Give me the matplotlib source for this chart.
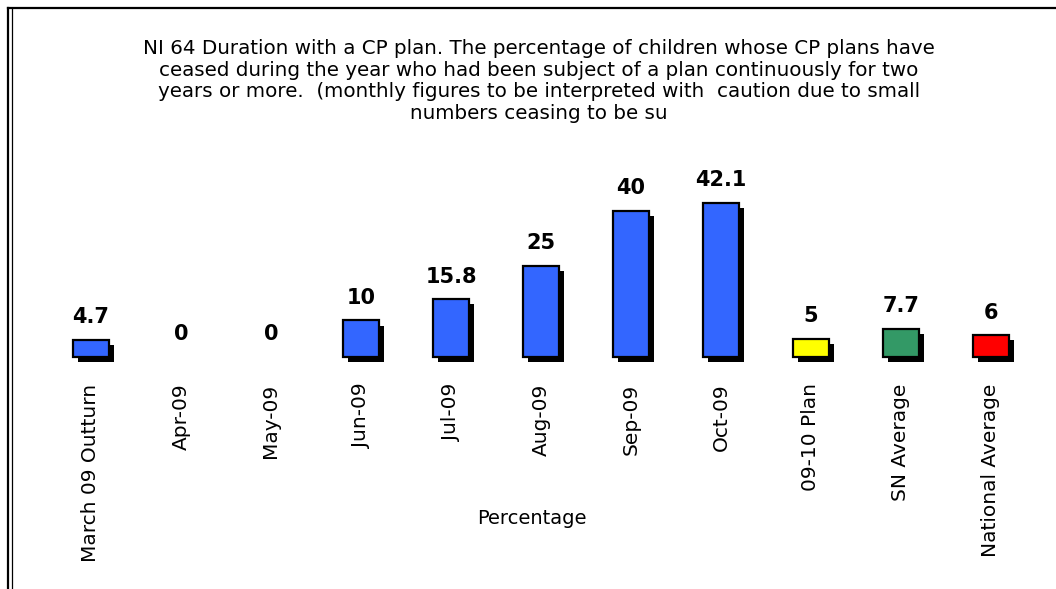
import matplotlib
matplotlib.use('Agg')
import matplotlib.pyplot as plt
import matplotlib.patheffects as pe
from matplotlib.lines import Line2D

categories = ['March 09 Outturn', 'Apr-09', 'May-09', 'Jun-09', 'Jul-09', 'Aug-09',
              'Sep-09', 'Oct-09', '09-10 Plan', 'SN Average', 'National Average']
values = [4.7, 0, 0, 10, 15.8, 25, 40, 42.1, 5, 7.7, 6]
value_labels = ['4.7', '0', '0', '10', '15.8', '25', '40', '42.1', '5', '7.7', '6']
colors = ['#3366FF'] * 8 + ['#FFFF00', '#339966', '#FF0000']

title = ("NI 64 Duration with a CP plan. The percentage of children whose CP plans have\n"
         "ceased during the year who had been subject of a plan continuously for two\n"
         "years or more.  (monthly figures to be interpreted with  caution due to small\n"
         "numbers ceasing to be su")

plt.rcParams['font.family'] = ['DejaVu Sans']

fig = plt.figure(figsize=(10.56, 5.89), dpi=100)
W, H = 1056, 589
ax = fig.add_axes([46 / W, (H - 357) / H, 990 / W, 183 / H])

x = list(range(len(categories)))
bars = ax.bar(x, values, width=0.4, color=colors, edgecolor='black', linewidth=1.6,
              clip_on=False)
for b, v in zip(bars, values):
    if v == 0:
        b.set_visible(False)
    else:
        b.set_path_effects([pe.SimplePatchShadow(offset=(3.8, -3.8), shadow_rgbFace='black',
                                                 alpha=1.0), pe.Normal()])

for xi, v, lab in zip(x, values, value_labels):
    ax.annotate(lab, (xi, v), xytext=(0, 9), textcoords='offset points',
                ha='center', va='bottom', fontsize=15, fontweight='bold')

ax.set_xlim(-0.5, len(categories) - 0.5)
ax.set_ylim(0, 50)
ax.set_xticks(x)
ax.set_xticklabels(categories, rotation=90, fontsize=14.5, va='top', ha='center')
ax.tick_params(axis='x', length=0, pad=19)
ax.set_yticks([])
for s in ax.spines.values():
    s.set_visible(False)

fig.text(539 / W, 1 - 39 / H, title, ha='center', va='top', fontsize=14.3,
         linespacing=1.18)
fig.text(532 / W, 1 - 518 / H, 'Percentage', ha='center', va='center', fontsize=14)

# frame lines at left and top
fig.add_artist(Line2D([8 / W, 8 / W], [0, 1 - 8 / H], color='black', lw=1.6))
fig.add_artist(Line2D([11.5 / W, 11.5 / W], [0, 1 - 8 / H], color='black', lw=0.9))
fig.add_artist(Line2D([8 / W, 1], [1 - 8 / H, 1 - 8 / H], color='black', lw=1.6))

fig.savefig('out.png', dpi=100)
